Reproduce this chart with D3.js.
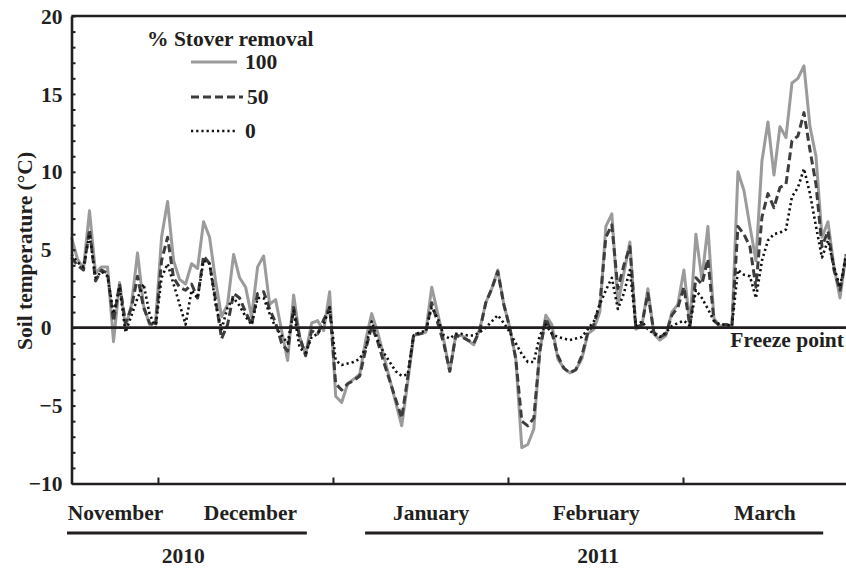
<!DOCTYPE html>
<html>
<head>
<meta charset="utf-8">
<script src="https://cdn.jsdelivr.net/npm/d3@7"></script>
<style>
  html, body { margin: 0; padding: 0; background: #ffffff; }
  svg { display: block; }
  text { font-family: "Liberation Serif", "Times New Roman", serif; font-weight: bold; fill: #231f20; }
</style>
</head>
<body>
<svg id="chart" width="846" height="568"></svg>
<script>
// Daily mean soil temperature (°C) under three stover-removal rates, Nov 2010 – Mar 2011
const removal100 = [
  5.8, 4.4, 3.8, 7.5, 3.5, 3.9, 3.9, -0.9, 2.9, 0.0,
  1.5, 4.8, 1.4, 0.2, 0.3, 5.8, 8.1, 4.3, 3.1, 2.8,
  4.1, 3.8, 6.8, 5.8, 3.0, 0.7, 1.5, 4.7, 3.2, 2.6,
  0.7, 3.9, 4.6, 1.5, 1.8, -0.2, -2.1, 2.1, -0.6, -1.7,
  0.3, 0.45, -0.2, 2.3, -4.4, -4.8, -3.6, -3.3, -3.0, -0.8,
  0.9, -0.3, -1.8, -3.3, -4.8, -6.3, -3.5, -0.5, -0.4, -0.3,
  2.6, 0.9, -0.8, -2.8, -0.5, -0.5, -0.8, -1.1, -0.1, 1.6,
  2.5, 3.7, 1.5, 0.0, -2.0, -7.7, -7.5, -6.5, -1.5, 0.8,
  0.2, -2.0, -2.6, -2.9, -2.7, -2.0, -0.4, -0.1, 1.0, 6.5,
  7.3, 1.5, 3.5, 5.5, -0.1, 0.1, 2.5, -0.4, -0.8, -0.5,
  1.0, 1.5, 3.7, 0.2, 6.0, 3.1, 6.5, 0.6, 0.1, 0.2,
  0.0, 10.0, 8.8, 6.5, 4.3, 10.7, 13.2, 9.8, 12.9, 12.2,
  15.7, 16.0, 16.8, 12.9, 11.0, 5.8, 6.8, 3.9, 1.9, 4.7
];
const removal50 = [
  4.5, 4.0, 3.7, 6.3, 3.0, 3.7, 3.5, 0.4, 2.8, 0.3,
  1.3, 3.3, 1.3, 0.3, 0.1, 4.3, 5.8, 3.2, 2.6, 2.4,
  2.8, 1.9, 4.6, 4.1, 1.8, -0.7, 0.2, 2.2, 1.9, 1.0,
  0.2, 2.2, 2.3, 1.2, 0.3, -1.0, -1.5, 1.3, -0.6, -1.8,
  -0.2, -0.4, 0.5, 1.3, -3.6, -4.0, -3.6, -3.4, -3.1, -1.4,
  0.1, -0.9, -2.2, -3.4, -4.6, -5.8, -3.2, -0.4, -0.4, -0.3,
  1.6, 0.3, -1.0, -2.8, -0.5, -0.6, -0.8, -1.0, -0.2, 1.6,
  2.5, 3.6, 1.5, 0.0, -2.0, -6.0, -6.3, -5.8, -1.5, 0.6,
  -0.3, -1.8, -2.6, -2.9, -2.7, -1.8, -0.3, 0.2, 1.5, 5.8,
  6.6, 2.5, 4.0, 5.2, 0.0, 0.2, 2.2, -0.3, -0.6, -0.4,
  0.8, 1.3, 2.6, 0.1, 3.2, 2.8, 4.4, 0.45, 0.1, 0.2,
  0.1, 6.5, 6.0, 5.2, 2.6, 7.1, 8.6, 7.7, 9.0, 9.2,
  12.0, 12.3, 13.8, 11.4, 9.2, 5.2, 6.2, 3.7, 2.4, 4.5
];
const removal0 = [
  4.7, 4.2, 3.9, 6.0, 3.2, 3.6, 3.3, 0.9, 2.6, -0.3,
  0.8, 1.9, 2.8, 0.9, 0.0, 3.2, 4.1, 2.8, 1.5, 0.2,
  2.4, 1.9, 4.3, 4.1, 1.5, -0.1, 1.3, 1.9, 1.4, 0.7,
  0.2, 1.9, 1.9, 0.9, 0.0, -0.5, -1.0, 1.1, -1.3, -1.6,
  -0.6, -0.4, 0.2, 1.3, -2.1, -2.4, -2.3, -2.2, -2.0, -1.3,
  0.4, -0.8, -1.6, -2.2, -2.8, -3.1, -3.0, -0.5, -0.3, -0.2,
  1.3, 0.6, -0.5, -0.7, -0.4, -0.4, -0.5, -0.5, -0.3, 0.0,
  0.4, 0.8, 0.3, -0.3, -1.0, -1.7, -2.2, -2.2, -0.5, 0.2,
  -0.4, -0.6, -0.7, -0.8, -0.7, -0.6, -0.1, 0.4, 1.5, 2.4,
  3.2, 1.2, 2.2, 3.7, 0.1, 0.4, -0.1, -0.4, -0.6, -0.3,
  0.1, 0.3, 0.45, 0.1, 2.4, 1.9, 1.2, 0.45, 0.2, 0.2,
  0.1, 3.7, 3.4, 3.3, 1.9, 4.3, 5.6, 6.0, 6.1, 6.3,
  8.4, 9.0, 10.2, 8.6, 6.5, 4.5, 5.6, 3.9, 2.6, 4.7
];

const seriesLabels = ["100", "50", "0"];
const legendTitle = "% Stover removal";
const yMinorTicks = d3.range(-10, 21, 1);
const yLabelTicks = [-10, -5, 0, 5, 10, 15, 20];
const monthNames = ["November", "December", "January", "February", "March"];
const yearNames = ["2010", "2011"];
const freezeLabel = "Freeze point";
const yTitle = "Soil temperature (\u00B0C)";

// Layout, in sample-index units along x
const monthTickAt = [14.4, 43.55, 72.7, 101.85];
const monthLabelAt = [7.33, 29.8, 59.9, 87.4, 115.5];
const yearLabelAt = [18.6, 87.7];
const yearRuleSpan = [[-0.75, 39.2], [48.9, 125.2]];

const W = 846, H = 568;
const svg = d3.select("#chart");
svg.append("rect").attr("width", W).attr("height", H).attr("fill", "#fff");

const x = d3.scaleLinear().domain([0, 129]).range([71.5, 846]);
const y = d3.scaleLinear().domain([-10, 20]).range([483.5, 16]);
const FS = 21.5;
const ink = "#231f20";

// Lines
const line = d3.line().x((d, i) => x(i)).y(d => y(d)).curve(d3.curveLinear);
const styles = [
  { data: removal100, stroke: "#9b9b9b", width: 3, dash: null },
  { data: removal50, stroke: "#3d3d3d", width: 3, dash: "8,4" },
  { data: removal0, stroke: "#111111", width: 2.6, dash: "2.2,3" }
];
const plot = svg.append("g");
styles.forEach(s => {
  plot.append("path")
    .datum(s.data)
    .attr("d", line)
    .attr("fill", "none")
    .attr("stroke", s.stroke)
    .attr("stroke-width", s.width)
    .attr("stroke-linejoin", "round")
    .attr("stroke-dasharray", s.dash);
});

// Freeze point reference line
svg.append("line")
  .attr("x1", x(0)).attr("x2", W)
  .attr("y1", y(0)).attr("y2", y(0))
  .attr("stroke", ink).attr("stroke-width", 2.6);

// Top frame line
svg.append("line")
  .attr("x1", x(0)).attr("x2", W)
  .attr("y1", y(20)).attr("y2", y(20))
  .attr("stroke", ink).attr("stroke-width", 2.6);

// Y axis: inward minor ticks every 1 °C, labels every 5 °C
const yAxis = d3.axisLeft(y)
  .tickValues(yMinorTicks)
  .tickSize(-4)
  .tickSizeOuter(0)
  .tickPadding(9)
  .tickFormat(d => yLabelTicks.includes(d) ? (d < 0 ? "\u2212" + Math.abs(d) : String(d)) : "");
const gy = svg.append("g").attr("transform", `translate(${x(0)},0)`).call(yAxis);
gy.select(".domain").attr("stroke", ink).attr("stroke-width", 2.6);
gy.selectAll(".tick line").attr("stroke", ink).attr("stroke-width", 2);
gy.selectAll(".tick text")
  .attr("font-size", FS)
  .attr("font-family", null)
  .attr("fill", ink)
  .attr("dy", "0.33em")
  .attr("dx", d => (d >= 0 && d < 10) ? -11 : 0);

// X axis: inward ticks
const xAxis = d3.axisBottom(x)
  .tickValues(monthTickAt)
  .tickSize(-6)
  .tickSizeOuter(0)
  .tickFormat("");
const gx = svg.append("g").attr("transform", `translate(0,${y(-10)})`).call(xAxis);
gx.select(".domain").attr("stroke", ink).attr("stroke-width", 2.6);
gx.selectAll(".tick line").attr("stroke", ink).attr("stroke-width", 2);

// Month labels
svg.append("g").selectAll("text")
  .data(monthNames)
  .join("text")
  .attr("x", (d, i) => x(monthLabelAt[i]))
  .attr("y", 520)
  .attr("text-anchor", "middle")
  .attr("font-size", FS)
  .text(d => d);

// Year rules and labels
svg.append("g").selectAll("line")
  .data(yearRuleSpan)
  .join("line")
  .attr("x1", d => x(d[0])).attr("x2", d => x(d[1]))
  .attr("y1", 533).attr("y2", 533)
  .attr("stroke", ink).attr("stroke-width", 3);
svg.append("g").selectAll("text")
  .data(yearNames)
  .join("text")
  .attr("x", (d, i) => x(yearLabelAt[i]))
  .attr("y", 563)
  .attr("text-anchor", "middle")
  .attr("font-size", FS)
  .text(d => d);

// Y title
svg.append("text")
  .attr("transform", "translate(32,251) rotate(-90)")
  .attr("text-anchor", "middle")
  .attr("font-size", FS)
  .text(yTitle);

// Freeze point label, kept inside the right edge
svg.append("text")
  .attr("x", W - 2)
  .attr("y", y(0) + 19.5)
  .attr("text-anchor", "end")
  .attr("font-size", FS)
  .text(freezeLabel);

// Legend
const legend = svg.append("g");
legend.append("text").attr("x", 147).attr("y", 46).attr("font-size", FS).text(legendTitle);
const legendRows = [62, 97, 131];
styles.forEach((s, i) => {
  legend.append("line")
    .attr("x1", 191).attr("x2", i === 1 ? 243 : 237)
    .attr("y1", legendRows[i]).attr("y2", legendRows[i])
    .attr("stroke", s.stroke)
    .attr("stroke-width", s.width)
    .attr("stroke-dasharray", s.dash);
  legend.append("text")
    .attr("x", i === 1 ? 247 : 245)
    .attr("y", legendRows[i] + 7)
    .attr("font-size", FS)
    .text(seriesLabels[i]);
});
</script>
</body>
</html>
